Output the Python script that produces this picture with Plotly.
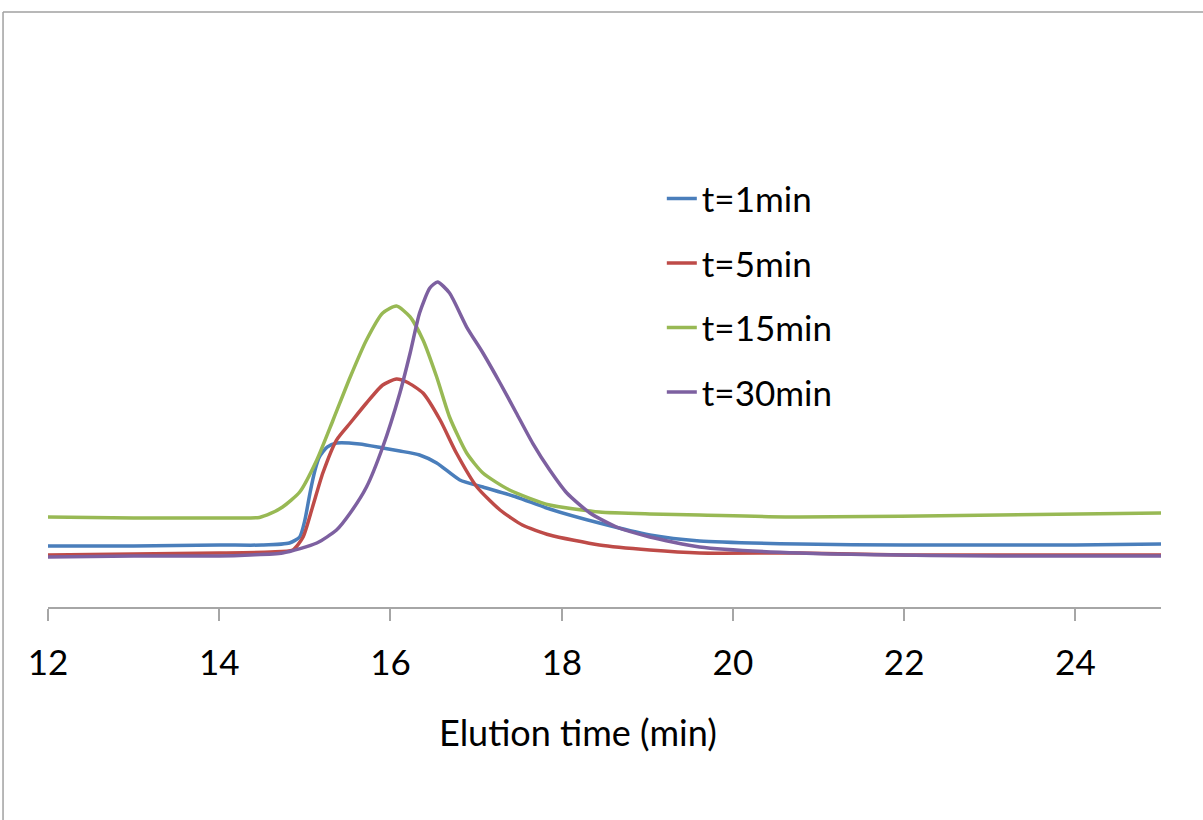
import plotly.graph_objects as go

# Elution time (min) and detector signal (arbitrary units)
t1 = [12.0, 13.0, 14.0, 14.5, 14.82, 14.94, 15.0, 15.06, 15.12, 15.17, 15.26, 15.37, 15.64, 15.91, 16.11,
      16.34, 16.54, 16.81, 17.08, 17.47, 17.86, 18.44, 19.03, 19.61, 20.78, 22.0, 23.11, 24.0, 25.0]
s1 = [10.76, 10.76, 10.93, 10.93, 11.29, 12.35, 15.3, 20.1, 24.2, 26.46, 28.2, 28.92, 28.75, 28.04, 27.51,
      26.81, 25.4, 22.4, 21.16, 19.4, 17.28, 14.81, 12.7, 11.64, 11.11, 10.93, 10.93, 10.93, 11.11]

t5 = [12.0, 13.0, 14.0, 14.6, 14.86, 14.98, 15.09, 15.21, 15.37, 15.53, 15.72, 15.91, 16.07, 16.19, 16.38,
      16.58, 16.77, 17.01, 17.28, 17.54, 17.86, 18.44, 19.03, 19.61, 20.78, 22.0, 23.11, 25.0]
s5 = [9.17, 9.35, 9.52, 9.7, 10.05, 12.35, 17.64, 23.63, 29.45, 32.45, 35.98, 39.15, 40.21, 39.68, 37.74,
      32.98, 27.16, 21.16, 17.11, 14.46, 12.7, 10.93, 10.05, 9.52, 9.52, 9.17, 9.17, 9.17]

t15 = [12.0, 13.0, 14.0, 14.36, 14.47, 14.6, 14.74, 14.94, 15.14, 15.33, 15.53, 15.72, 15.91, 16.07, 16.23, 16.38,
       16.54, 16.69, 16.89, 17.08, 17.39, 17.86, 18.44, 19.03, 19.61, 20.78, 23.11, 25.0]
s15 = [15.87, 15.7, 15.7, 15.7, 15.8, 16.5, 17.64, 20.28, 25.93, 32.98, 40.56, 47.09, 51.85, 53.09, 51.15, 47.09,
       40.56, 33.51, 27.16, 23.63, 20.63, 17.99, 16.75, 16.4, 16.23, 15.87, 16.23, 16.58]

t30 = [12.0, 13.0, 14.0, 14.36, 14.74, 15.14, 15.37, 15.53, 15.72, 15.91, 16.11, 16.23, 16.34, 16.46, 16.55,
       16.69, 16.89, 17.08, 17.28, 17.47, 17.66, 17.86, 18.06, 18.33, 18.64, 19.03, 19.61, 20.78, 23.11, 25.0]
s30 = [8.82, 8.99, 8.99, 9.17, 9.52, 11.29, 13.58, 16.58, 21.16, 28.22, 37.74, 44.8, 51.85, 56.26, 57.32,
       55.38, 49.38, 44.8, 39.51, 34.22, 28.92, 24.16, 20.11, 16.58, 14.11, 12.35, 10.58, 9.52, 8.99, 8.99]

names = ["t=1min", "t=5min", "t=15min", "t=30min"]
colors = ["#4A7EBB", "#BE4B48", "#98B954", "#7D60A0"]
series = [(t1, s1), (t5, s5), (t15, s15), (t30, s30)]

FONT = "Lato"

fig = go.Figure()
for (tx, sy), nm, c in zip(series, names, colors):
    fig.add_trace(go.Scatter(x=tx, y=sy, mode="lines", name=nm, legendgroup=nm,
                             line=dict(color=c, width=3.5, shape="spline", smoothing=0.6)))

fig.update_layout(
    width=1203, height=820,
    margin=dict(l=48, r=42, t=40, b=213),
    paper_bgcolor="white", plot_bgcolor="white",
    font=dict(family=FONT, size=35, color="black"),
    showlegend=True,
    legend=dict(x=0.5515, y=0.772, xanchor="left", yanchor="top", bgcolor="rgba(0,0,0,0)",
                font=dict(family=FONT, size=35), tracegroupgap=16, itemwidth=30),
    xaxis=dict(range=[12, 25], tickvals=[12, 14, 16, 18, 20, 22, 24], ticks="outside", ticklen=12,
               tickwidth=1.5, tickcolor="#A6A6A6", showline=True, linecolor="#A6A6A6", linewidth=1.5,
               showgrid=False, zeroline=False, tickfont=dict(family=FONT, size=35),
               ticklabelstandoff=12),
    yaxis=dict(range=[0, 100], visible=False, showgrid=False, zeroline=False),
    annotations=[dict(text="Elution time (min)", xref="paper", yref="paper", x=0.4762, y=-0.2205,
                      xanchor="center", yanchor="middle", showarrow=False,
                      font=dict(family=FONT, size=36))],
    shapes=[
        dict(type="line", xref="paper", yref="paper", x0=-0.0404, x1=1.04, y0=1.0494, y1=1.0494,
             line=dict(color="#A0A0A0", width=1.5)),
        dict(type="line", xref="paper", yref="paper", x0=-0.0404, x1=-0.0404, y0=1.0494, y1=-0.38,
             line=dict(color="#A0A0A0", width=1.5)),
    ],
)

fig.write_html("out.html")
